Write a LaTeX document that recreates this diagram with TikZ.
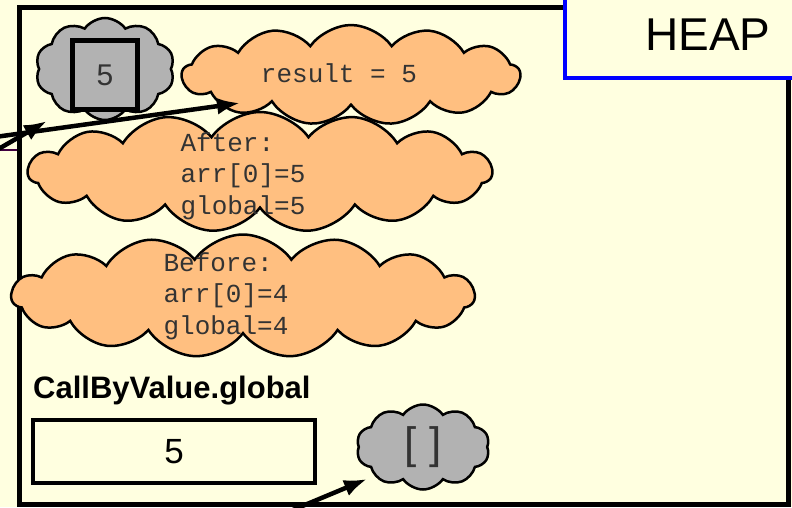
\documentclass[tikz,border=0pt]{standalone}
\usepackage{fontspec}
\setmainfont{Liberation Sans}
\setmonofont{Liberation Mono}
\usepackage{tikz}
\usetikzlibrary{shapes.symbols, positioning, arrows.meta}
\definecolor{heapbg}{RGB}{255,255,224}
\definecolor{peach}{RGB}{255,191,128}
\definecolor{cloudgray}{RGB}{178,178,178}
\definecolor{stackpurple}{RGB}{64,0,64}

\begin{document}
\begin{tikzpicture}[x=1pt, y=-1pt,
    heapcloud/.style={cloud, cloud puffs=15, cloud puff arc=110, draw, line width=2.5pt, fill=peach, inner sep=0pt},
    refcloud/.style={heapcloud, fill=cloudgray, cloud puffs=10},
    code/.style={font=\fontsize{26}{31.5}\selectfont\ttfamily, align=left, text=black!80},
    ref/.style={line width=4.5pt, -{Latex[length=23pt,width=17pt]}}]
  \useasboundingbox[fill=heapbg] (0,0) rectangle (792,507);
  % heap frame and its title
  \draw[line width=5pt] (19,7) rectangle (788.5,504.5);
  \draw[blue, line width=4pt, fill=heapbg] (565,-10) rectangle (810,78);
  \node[font=\fontsize{46}{46}\selectfont] (heap) at (708,35) {HEAP};
  % objects on the heap
  \node[heapcloud, aspect=3.76, minimum width=463, minimum height=123] (before) at (243,296) {};
  \node[code] (beforetxt) at ([xshift=-17pt]before.center) {Before:\\arr[0]=4\\global=4};
  \node[heapcloud, aspect=3.87, minimum width=464, minimum height=120] (after) at (260,172) {};
  \node[code] (aftertxt) at ([xshift=-17pt,yshift=-4pt]after.center) {After:\\arr[0]=5\\global=5};
  \node[refcloud, aspect=1.36, minimum width=139, minimum height=102] (arr) at (105,69) {};
  \node[draw, line width=5pt, fill=cloudgray, minimum width=65, minimum height=69,
        font=\fontsize{30}{30}\selectfont, text=black!80] (cell) at (105,75) {5};
  \node[heapcloud, cloud puffs=13, aspect=3.38, minimum width=338, minimum height=100] (result) at (351,75) {};
  \node[code] (resulttxt) at ([xshift=-12pt,yshift=2pt]result.center) {result = 5};
  % references coming in from the stack
  \coordinate (stackA) at (-5,137);
  \coordinate (stackB) at (-5,151);
  \coordinate (resultin) at (240,103);
  \coordinate (arrin) at (47,121);
  \draw[stackpurple, line width=2.5pt] (-2,150) -- (17,150);
  \draw[ref] (stackB) -- (arrin);
  \draw[ref] (stackA) -- (resultin);
  % static field
  \node[draw, line width=4pt, minimum width=282, minimum height=63,
        font=\fontsize{35}{35}\selectfont] (globalbox) at (174,451.5) {5};
  \node[font=\fontsize{31}{31}\selectfont\bfseries, anchor=base west, inner sep=0pt] (globallabel) at (33,398) {CallByValue.global};
  \node[refcloud, aspect=1.56, minimum width=133, minimum height=85, font=\fontsize{44}{44}\selectfont, text=black!80] (empty) at (423,447) {[ ]};
  \coordinate (stackC) at (288,512);
  \coordinate (emptyin) at (367,479);
  \draw[ref] (stackC) -- (emptyin);
\end{tikzpicture}
\end{document}
